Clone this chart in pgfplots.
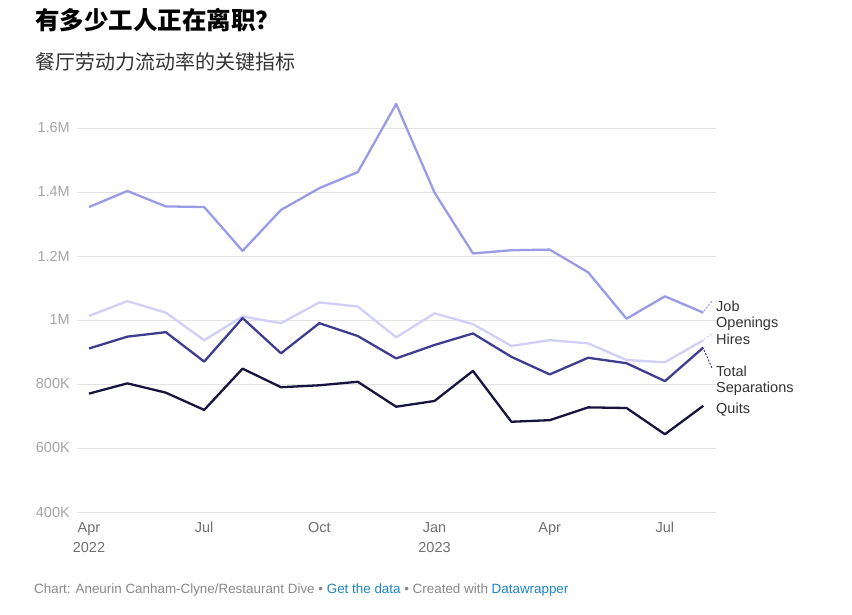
\documentclass[border=0pt]{standalone}
\usepackage{pgfplots}
\pgfplotsset{compat=1.18}
\usepackage{fontspec}
\setmainfont{Liberation Sans}
\newfontfamily\cjk{Noto Sans CJK SC}
\definecolor{jobs}{HTML}{9A9BE6}
\definecolor{hires}{HTML}{D0CFF8}
\definecolor{seps}{HTML}{3F3D8F}
\definecolor{quits}{HTML}{16153F}
\definecolor{gridc}{HTML}{E3E3E3}
\definecolor{ylab}{HTML}{A6A6A6}
\definecolor{xlab}{HTML}{707070}
\definecolor{lab}{HTML}{333333}
\definecolor{foot}{HTML}{888888}
\definecolor{link}{HTML}{1D85C4}

% months: 0 = Apr 2022 ... 16 = Aug 2023, values in thousands
\pgfplotstableread{
m  jobs  hires  seps  quits
0  1353  1013   911   770
1  1403  1059   948   802
2  1355  1023   962   773
3  1353  937    870   719
4  1216  1011   1006  848
5  1344  990    896   790
6  1412  1055   990   796
7  1462  1042   950   807
8  1675  946    880   729
9  1398  1021   922   747
10 1208  987    958   841
11 1218  919    885   682
12 1220  937    830   687
13 1149  927    882   727
14 1004  875    865   725
15 1074  868    809   643
16 1023  937    914   732
}\datatable

\begin{document}
\begin{tikzpicture}
\path[use as bounding box] (0pt,0pt) rectangle (852pt,-614pt);

\begin{axis}[
    at={(77pt,-512pt)}, anchor=south west,
    scale only axis, width=639pt, height=416pt,
    xmin=-0.3125, xmax=16.33, ymin=400, ymax=1700,
    axis line style={draw=none},
    major tick length=0pt,
    ymajorgrids, grid style={gridc, line width=0.9pt},
    ytick={400,600,800,1000,1200,1400,1600},
    yticklabels={400K,600K,800K,1M,1.2M,1.4M,1.6M},
    yticklabel style={anchor=east, inner sep=0pt, xshift=-7pt, text=ylab, font=\fontsize{14.5}{16}\selectfont},
    xtick={0,3,6,9,12,15},
    xticklabels={Apr\\2022,Jul,Oct,Jan\\2023,Apr,Jul},
    xticklabel style={anchor=north, inner sep=0pt, yshift=-10pt, align=center, text=xlab, font=\fontsize{14.5}{20}\selectfont},
    clip=false,
]
\addplot[hires, line width=2.3pt, line join=round] table[x=m,y=hires] {\datatable};
\addplot[jobs, line width=2.3pt, line join=round] table[x=m,y=jobs] {\datatable};
\addplot[seps, line width=2.3pt, line join=round] table[x=m,y=seps] {\datatable};
\addplot[quits, line width=2.3pt, line join=round] table[x=m,y=quits] {\datatable};
\end{axis}

\begin{scope}[x=1pt,y=1pt]
\node[anchor=west,inner sep=0pt] at (35,-20) {\cjk\bfseries\fontsize{24.5}{26}\selectfont 有多少工人正在离职？};
\node[anchor=west,inner sep=0pt,text=lab] at (35,-62) {\cjk\fontsize{20}{22}\selectfont 餐厅劳动力流动率的关键指标};

% label connectors
\draw[jobs, line width=1pt, dash pattern=on 2pt off 1.5pt] (704,-311) -- (712,-301);
\draw[hires, line width=1pt, dash pattern=on 2pt off 1.5pt] (704,-339) -- (712,-334);
\draw[seps, line width=1pt, dash pattern=on 2pt off 1.5pt] (704,-350) -- (712,-368);

\begin{scope}[every node/.style={anchor=west, inner sep=0pt, text=lab, font=\fontsize{14.5}{16}\selectfont}]
\node at (716,-306) {Job};
\node at (716,-324) {Openings};
\node at (716,-339) {Hires};
\node at (716,-371) {Total};
\node at (716,-389) {Separations};
\node at (716,-410) {Quits};
\end{scope}

\node[anchor=west, inner sep=0pt, text=foot, font=\fontsize{13.4}{15}\selectfont] at (34,-590)
  {Chart: Aneurin Canham-Clyne/Restaurant Dive \textbullet\ \textcolor{link}{Get the data} \textbullet\ Created with \textcolor{link}{Datawrapper}};
\end{scope}
\end{tikzpicture}
\end{document}
